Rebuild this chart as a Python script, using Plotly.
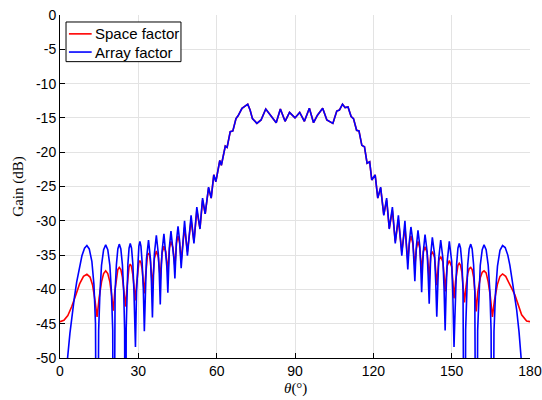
import plotly.graph_objects as go

# ---------------- data ----------------
# Array factor (blue), theta in degrees, gain in dB (values below -50 are off-chart nulls)
af_theta = [
    0.0, 2.9, 3.8, 4.6, 5.5, 6.4, 7.4, 8.4, 9.4, 10.3, 11.2, 12.2, 13.0, 13.6, 14.15,
    14.8, 15.3, 15.9, 16.7, 17.5, 18.3, 19.1, 19.7, 20.2, 20.45,
    20.8, 21.1, 21.6, 22.15, 22.7, 23.3, 23.9, 24.4, 24.75, 25.1,
    25.35, 25.65, 26.0, 26.45, 26.9, 27.4, 27.9, 28.3, 28.6, 28.9,
    29.3, 29.75, 30.2, 30.6, 31.0, 31.45, 31.9, 32.3,
    32.7, 33.1, 33.9, 34.65, 35.0, 35.4,
    35.8, 36.15, 36.9, 37.65, 38.0, 38.4,
    38.75, 39.1, 39.8, 40.5, 40.9, 41.3,
    41.6, 41.9, 42.5, 43.25, 43.6, 44.0,
    44.6, 45.2, 45.8, 46.4,
    47.7, 48.8, 50.2, 51.3, 52.4, 53.6, 54.6, 55.6, 56.9, 57.9, 58.9, 59.7,
    61.2, 61.8, 63.3, 64.0, 65.2, 66.2, 67.4, 68.2, 69.7, 70.5, 71.9, 72.8,
    73.7, 75.4, 77.0, 78.8, 80.5, 82.8, 84.4, 86.2, 87.9, 90.0, 91.8, 93.6,
    95.5, 97.1, 98.6, 100.6, 102.2, 104.5, 106.0, 107.0, 108.2, 109.2, 110.3,
    111.5, 112.4, 113.6, 114.5, 115.6, 116.6, 117.6, 118.6, 119.4, 120.7,
    121.7, 122.8, 124.0, 125.1, 126.1, 127.3, 128.4, 129.6, 130.9, 132.1, 133.2,
    133.8, 134.4, 135.15, 135.9,
    136.2, 136.5, 137.1, 137.8, 138.15, 138.5,
    138.8, 139.15, 139.8, 140.6, 141.0, 141.4,
    141.7, 142.0, 142.6, 143.45, 143.9, 144.3,
    144.7, 145.05, 145.8, 146.65, 147.1, 147.5,
    147.9, 148.3, 149.1, 150.0, 150.45, 150.9,
    151.2, 151.5, 151.9, 152.4, 152.9, 153.4, 153.95, 154.35, 154.7, 155.0,
    155.35, 155.7, 156.15, 156.7, 157.3, 157.85, 158.4, 158.85, 159.15, 159.5,
    159.95, 160.4, 160.95, 161.7, 162.4, 163.2, 164.0, 164.65, 165.1, 165.6,
    166.2, 166.8, 167.55, 168.5, 169.5, 170.5, 171.5, 172.3, 173.0, 174.0,
    174.9, 175.8, 176.6, 177.5, 180.0,
]
af_db = [
    -90.0, -50.0, -46.4, -43.7, -41.2, -38.9, -36.8, -35.1, -34.0, -33.6, -34.1, -35.9, -39.3, -45.0, -90.0,
    -46.0, -40.4, -36.5, -34.2, -33.5, -34.2, -36.5, -40.4, -46.0, -90.0,
    -45.9, -40.3, -36.4, -34.1, -33.4, -34.1, -36.4, -40.3, -45.9, -90.0,
    -45.8, -40.2, -36.3, -34.0, -33.3, -34.0, -36.3, -40.0, -44.5, -48.4,
    -40.5, -36.0, -33.7, -33.0, -33.7, -36.0, -39.8, -46.1,
    -39.5, -35.6, -32.8, -35.6, -38.8, -44.1,
    -38.0, -34.8, -32.1, -34.8, -37.5, -42.2,
    -37.2, -34.4, -31.9, -34.4, -36.6, -40.5,
    -36.3, -33.8, -31.5, -33.8, -35.5, -38.4,
    -32.9, -30.8, -32.9, -36.9,
    -30.0, -35.1, -29.2, -33.3, -28.0, -31.2, -26.7, -29.0, -25.1, -26.7, -23.3, -24.3,
    -21.2, -21.9, -19.1, -19.3, -17.0, -16.9, -15.1, -14.7, -13.6, -13.4, -13.0, -13.85,
    -15.1, -15.8, -15.3, -13.7, -14.6, -15.7, -13.7, -15.5, -14.2, -15.0, -14.2, -15.5,
    -13.6, -15.7, -14.6, -13.6, -15.3, -15.8, -14.0, -13.85, -13.0, -13.5, -13.4,
    -14.8, -15.1, -16.8, -16.9, -19.0, -19.2, -21.6, -21.4, -24.05, -23.3,
    -26.7, -25.1, -29.2, -26.7, -31.2, -28.0, -33.3, -29.2, -35.1, -30.0, -37.1,
    -33.0, -30.9, -33.0, -38.8,
    -36.0, -33.7, -31.4, -33.7, -36.6, -40.4,
    -37.4, -34.5, -32.0, -34.5, -38.0, -42.1,
    -38.3, -34.9, -32.4, -34.9, -39.0, -44.0,
    -39.3, -35.5, -32.8, -35.5, -40.0, -46.0,
    -40.0, -35.9, -33.0, -35.9, -40.8, -48.4,
    -44.5, -40.0, -36.3, -34.0, -33.3, -34.0, -36.3, -40.2, -45.8, -90.0,
    -45.9, -40.3, -36.4, -34.1, -33.4, -34.1, -36.4, -40.3, -45.9, -90.0,
    -46.0, -40.4, -36.5, -34.2, -33.5, -34.2, -36.5, -40.4, -46.0, -90.0,
    -46.1, -40.5, -36.6, -34.3, -33.6, -33.9, -35.0, -36.5, -38.1, -40.4,
    -43.0, -46.2, -50.0, -90.0, -90.0,
]

# Space factor (red)
sf_theta = [
    0.0, 1.5, 3.0, 4.5, 6.0, 7.5, 9.0, 10.3, 11.5, 12.5, 13.4, 14.2,
    15.0, 15.9, 16.7, 17.5, 18.3, 19.1, 19.8, 20.4,
    21.0, 21.6, 22.15, 22.7, 23.3, 23.9, 24.5, 25.1,
    25.65, 26.0, 26.45, 26.9, 27.4, 27.9, 28.4, 28.9,
    29.3, 29.75, 30.2, 30.6, 31.0, 31.45, 31.9, 32.3,
    32.7, 33.1, 33.5, 33.9, 34.3, 34.65, 35.0, 35.4,
    35.8, 36.15, 36.9, 37.65, 38.0, 38.4,
    38.75, 39.1, 39.8, 40.5, 40.9, 41.3,
    41.6, 41.9, 42.5, 43.25, 43.6, 44.0,
    44.6, 45.2, 45.8, 46.4,
    47.7, 48.8, 50.2, 51.3, 52.4, 53.6, 54.6, 55.6, 56.9, 57.9, 58.9, 59.7,
    61.2, 61.8, 63.3, 64.0, 65.2, 66.2, 67.4, 68.2, 69.7, 70.5, 71.9, 72.8,
    73.7, 75.4, 77.0, 78.8, 80.5, 82.8, 84.4, 86.2, 87.9, 90.0, 91.8, 93.6,
    95.5, 97.1, 98.6, 100.6, 102.2, 104.5, 106.0, 107.0, 108.2, 109.2, 110.3,
    111.5, 112.4, 113.6, 114.5, 115.6, 116.6, 117.6, 118.6, 119.4, 120.7,
    121.7, 122.8, 124.0, 125.1, 126.1, 127.3, 128.4, 129.6, 130.9, 132.1, 133.2,
    133.8, 134.4, 135.15, 135.9,
    136.2, 136.5, 137.1, 137.8, 138.15, 138.5,
    138.8, 139.15, 139.8, 140.6, 141.0, 141.4,
    141.7, 142.0, 142.6, 143.45, 143.9, 144.3,
    144.7, 145.05, 145.8, 146.65, 147.1, 147.5,
    147.9, 148.3, 149.1, 150.0, 150.45, 150.9,
    151.5, 151.9, 152.4, 152.9, 153.4, 153.95, 154.4, 154.9,
    155.5, 156.15, 156.7, 157.3, 157.85, 158.4, 158.9, 159.4,
    160.0, 160.95, 161.7, 162.4, 163.2, 164.0, 164.8, 165.6,
    166.4, 167.5, 168.5, 169.5, 170.7, 172.0, 173.2, 174.2, 175.5, 176.8, 178.7, 180.0,
]
sf_db = [
    -44.7, -44.5, -43.8, -42.5, -40.9, -39.2, -38.1, -37.8, -38.2, -39.4, -41.6, -44.0,
    -41.2, -38.9, -37.7, -37.3, -37.7, -38.9, -40.9, -43.1,
    -40.3, -38.2, -37.1, -36.8, -37.1, -38.2, -40.0, -42.5,
    -39.8, -38.0, -36.7, -36.3, -36.7, -37.9, -39.6, -41.6,
    -39.4, -37.1, -36.1, -35.8, -36.1, -37.0, -38.6, -40.6,
    -38.4, -36.1, -35.0, -34.7, -35.0, -36.0, -37.6, -39.6,
    -37.3, -35.5, -34.4, -35.3, -36.7, -38.6,
    -36.4, -34.7, -33.7, -34.5, -35.9, -37.6,
    -35.8, -34.0, -33.0, -33.9, -35.2, -36.7,
    -33.3, -32.2, -33.2, -35.8,
    -31.0, -34.5, -29.9, -33.0, -28.5, -31.1, -27.0, -29.0, -25.2, -26.7, -23.3, -24.3,
    -21.2, -21.9, -19.1, -19.3, -17.0, -16.9, -15.1, -14.7, -13.6, -13.4, -13.0, -13.85,
    -15.1, -15.8, -15.3, -13.7, -14.6, -15.7, -13.7, -15.5, -14.2, -15.0, -14.2, -15.5,
    -13.6, -15.7, -14.6, -13.6, -15.3, -15.8, -14.0, -13.85, -13.0, -13.5, -13.4,
    -14.8, -15.1, -16.8, -16.9, -19.0, -19.2, -21.6, -21.4, -24.05, -23.3,
    -26.7, -25.2, -29.1, -27.0, -31.1, -28.5, -33.0, -29.9, -34.5, -31.0, -35.8,
    -33.3, -32.2, -33.3, -36.7,
    -35.2, -34.0, -33.0, -34.0, -35.8, -37.6,
    -35.9, -34.5, -33.8, -34.6, -36.4, -38.6,
    -36.7, -35.0, -34.5, -35.3, -37.3, -39.4,
    -37.5, -35.8, -35.2, -36.0, -38.0, -40.3,
    -38.3, -36.6, -35.8, -36.7, -38.8, -41.3,
    -38.8, -37.4, -36.5, -36.2, -36.5, -37.6, -39.4, -41.9,
    -39.6, -37.7, -37.0, -36.8, -37.1, -38.2, -40.3, -43.2,
    -40.4, -38.3, -37.5, -37.3, -37.6, -38.9, -41.0, -44.0,
    -41.6, -39.3, -38.1, -37.75, -38.1, -39.0, -40.0, -40.8, -42.4, -43.7, -44.6, -44.7,
]

series_names = ["Space factor", "Array factor"]
series_colors = ["#ff0000", "#0000ff"]

x_ticks = [0, 30, 60, 90, 120, 150, 180]
y_ticks = [0, -5, -10, -15, -20, -25, -30, -35, -40, -45, -50]
y_tick_text = ["0", "-5", "-10", "-15", "-20", "-25", "-30", "-35", "-40", "-45", "-50"]

x_title = "<i>θ</i>(°)"
y_title = "Gain (dB)"

# ---------------- figure ----------------
fig = go.Figure()
fig.add_trace(go.Scatter(x=sf_theta, y=sf_db, mode="lines", name=series_names[0],
                         line=dict(color=series_colors[0], width=1.6), showlegend=False))
fig.add_trace(go.Scatter(x=af_theta, y=af_db, mode="lines", name=series_names[1],
                         line=dict(color=series_colors[1], width=1.6), showlegend=False))

sans = "Liberation Sans, Arial, Helvetica, sans-serif"
serif = "Liberation Serif, Times New Roman, serif"

# MATLAB-style legend box drawn in paper coordinates
fig.add_shape(type="rect", xref="paper", yref="paper", x0=0.0128, x1=0.2574, y0=0.864, y1=0.9796,
              line=dict(color="black", width=1), fillcolor="white", layer="above")
legend_rows = [0.945, 0.892]
for name, color, yy in zip(series_names, series_colors, legend_rows):
    fig.add_shape(type="line", xref="paper", yref="paper", x0=0.019, x1=0.0674, y0=yy, y1=yy,
                  line=dict(color=color, width=1.6), layer="above")
    fig.add_annotation(xref="paper", yref="paper", x=0.0705, y=yy, xanchor="left", yanchor="middle",
                       text=name, showarrow=False, font=dict(family=sans, size=15, color="black"))

# axis titles
fig.add_annotation(xref="paper", yref="paper", x=0.5, y=-0.088, xanchor="center", yanchor="middle",
                   text=x_title, showarrow=False, font=dict(family=serif, size=15, color="black"))
fig.add_annotation(xref="paper", yref="paper", x=-0.089, y=0.5, xanchor="center", yanchor="middle",
                   text=y_title, textangle=-90, showarrow=False,
                   font=dict(family=serif, size=15, color="black"))

axis_font = dict(family=sans, size=14, color="black")
fig.update_layout(
    width=542, height=400,
    margin=dict(l=60, r=12, t=15, b=42, autoexpand=False),
    paper_bgcolor="white", plot_bgcolor="white",
    showlegend=False,
    xaxis=dict(range=[0, 180], tickvals=x_ticks, ticks="inside", ticklen=5,
               tickcolor="black", showline=True, linecolor="black", linewidth=1,
               showgrid=True, gridcolor="#e3e3e3", gridwidth=1, zeroline=False,
               tickfont=axis_font, automargin=False, ticklabeloverflow="allow",
               ticklabelstandoff=0),
    yaxis=dict(range=[-50, 0], tickvals=y_ticks, ticktext=y_tick_text, ticks="inside", ticklen=5,
               tickcolor="black", showline=True, linecolor="black", linewidth=1,
               showgrid=True, gridcolor="#e3e3e3", gridwidth=1, zeroline=False,
               tickfont=axis_font, automargin=False, ticklabeloverflow="allow"),
)

# remove the browser's default 8px body margin so the 542x400 figure fills the window
fig.write_html("out.html", config={"displayModeBar": False},
               post_script="document.body.style.margin='0px';")
